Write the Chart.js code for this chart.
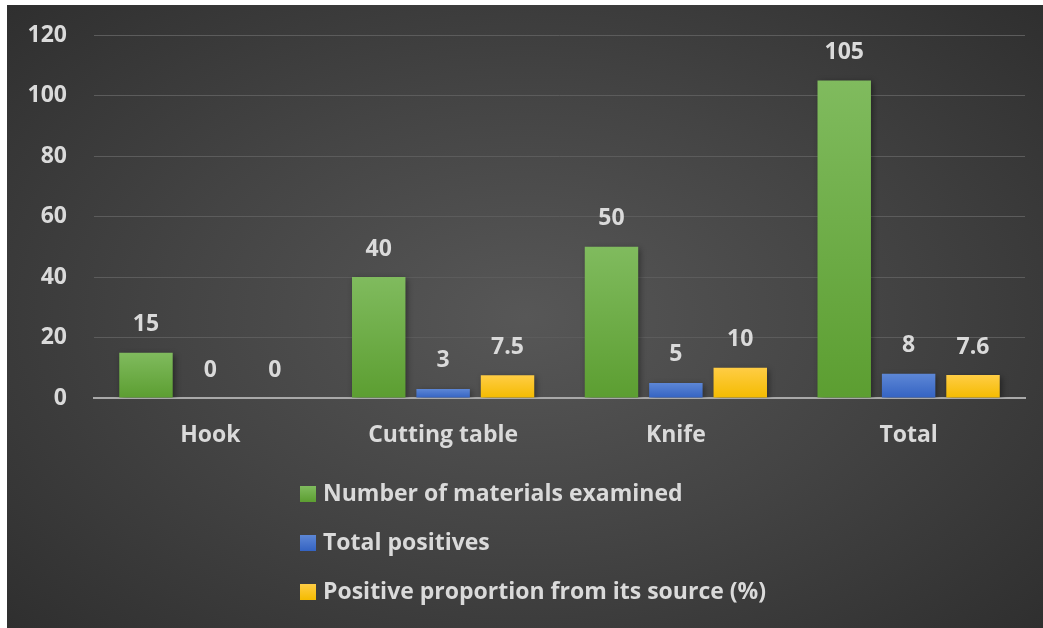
<!DOCTYPE html>
<html>
<head>
<meta charset="utf-8">
<script src="https://cdn.jsdelivr.net/npm/chart.js@4/dist/chart.umd.min.js"></script>
<style>
  html, body { margin: 0; padding: 0; background: #fff; }
  #wrap {
    position: absolute; left: 7px; top: 5px; width: 1036px; height: 623px;
    background: radial-gradient(ellipse 75% 80% at 50% 50%, #575757 0%, #444 45%, #2b2b2b 100%);
  }
  canvas { display: block; }
</style>
</head>
<body>
<div id="wrap"><canvas id="chart" width="1036" height="623"></canvas></div>
<script>
// values
const categories = ['Hook', 'Cutting table', 'Knife', 'Total'];
const materialsExamined = [15, 40, 50, 105];
const totalPositives = [0, 3, 5, 8];
const positiveProportion = [0, 7.5, 10, 7.6];
const yTicks = [0, 20, 40, 60, 80, 100, 120];

const seriesNames = [
  'Number of materials examined',
  'Total positives',
  'Positive proportion from its source (%)'
];
const colorPairs = [
  ['#80bb5e', '#5c9e31'],
  ['#5d87d6', '#3463c2'],
  ['#ffcd45', '#f4bb00']
];
const textColor = '#dadada';
const fontFamily = '"Open Sans", Lato, sans-serif';
const fontSize = 23;

// per bar vertical gradient, lighter at the top
function barFill(idx) {
  return (ctx) => {
    const chart = ctx.chart;
    if (!chart.chartArea || ctx.raw == null) return colorPairs[idx][1];
    const y = chart.scales.y;
    const top = y.getPixelForValue(ctx.raw);
    const bot = y.getPixelForValue(0);
    if (bot - top < 1) return colorPairs[idx][1];
    const g = chart.ctx.createLinearGradient(0, top, 0, bot);
    g.addColorStop(0, colorPairs[idx][0]);
    g.addColorStop(1, colorPairs[idx][1]);
    return g;
  };
}

const barShadow = {
  id: 'barShadow',
  beforeDatasetsDraw(chart) {
    const c = chart.ctx;
    c.save();
    c.shadowColor = 'rgba(0,0,0,0.4)';
    c.shadowBlur = 6;
    c.shadowOffsetX = 2;
    c.shadowOffsetY = 2;
  },
  afterDatasetsDraw(chart) {
    chart.ctx.restore();
  }
};

const valueLabels = {
  id: 'valueLabels',
  afterDatasetsDraw(chart) {
    const c = chart.ctx;
    c.save();
    c.font = 'bold ' + fontSize + 'px ' + fontFamily;
    c.fillStyle = textColor;
    c.textAlign = 'center';
    c.textBaseline = 'middle';
    chart.data.datasets.forEach((ds, i) => {
      chart.getDatasetMeta(i).data.forEach((bar, j) => {
        c.fillText(String(ds.data[j]), bar.x, bar.y - 28);
      });
    });
    c.restore();
  }
};

const sideLegend = {
  id: 'sideLegend',
  afterDraw(chart) {
    const c = chart.ctx;
    const area = chart.chartArea;
    c.save();
    c.font = 'bold ' + fontSize + 'px ' + fontFamily;
    c.textBaseline = 'middle';
    c.textAlign = 'left';
    chart.data.datasets.forEach((ds, i) => {
      const cy = area.bottom + 96 + i * 49;
      const g = c.createLinearGradient(0, cy - 8, 0, cy + 8);
      g.addColorStop(0, colorPairs[i][0]);
      g.addColorStop(1, colorPairs[i][1]);
      c.fillStyle = g;
      c.fillRect(293, cy - 8, 16, 16);
      c.fillStyle = textColor;
      c.fillText(ds.label, 316, cy);
    });
    c.restore();
  }
};

new Chart(document.getElementById('chart'), {
  type: 'bar',
  data: {
    labels: categories,
    datasets: [
      { label: seriesNames[0], data: materialsExamined, backgroundColor: barFill(0) },
      { label: seriesNames[1], data: totalPositives, backgroundColor: barFill(1) },
      { label: seriesNames[2], data: positiveProportion, backgroundColor: barFill(2) }
    ]
  },
  options: {
    responsive: false,
    animation: false,
    categoryPercentage: 0.83,
    barPercentage: 0.83,
    layout: { padding: { left: 0, right: 18, top: 30, bottom: 0 } },
    plugins: {
      legend: { display: false },
      tooltip: { enabled: false }
    },
    scales: {
      x: {
        grid: { display: false, drawTicks: false },
        border: { display: true, color: '#a9a9a9', width: 2 },
        ticks: { color: textColor, font: { family: fontFamily, size: fontSize, weight: 'bold' }, padding: 24 },
        afterFit: (s) => { s.height = 230; }
      },
      y: {
        min: 0,
        max: 120,
        afterBuildTicks: (s) => { s.ticks = yTicks.map(v => ({ value: v })); },
        // invisible tick marks push the labels away from the plot
        grid: { color: '#5c5c5c', lineWidth: 1, drawTicks: true, tickLength: 27, tickColor: 'rgba(0,0,0,0)' },
        border: { display: false },
        ticks: { color: textColor, font: { family: fontFamily, size: fontSize, weight: 'bold' }, padding: 0 },
        afterFit: (s) => { s.width = 87; }
      }
    }
  },
  plugins: [barShadow, valueLabels, sideLegend]
});
</script>
</body>
</html>
